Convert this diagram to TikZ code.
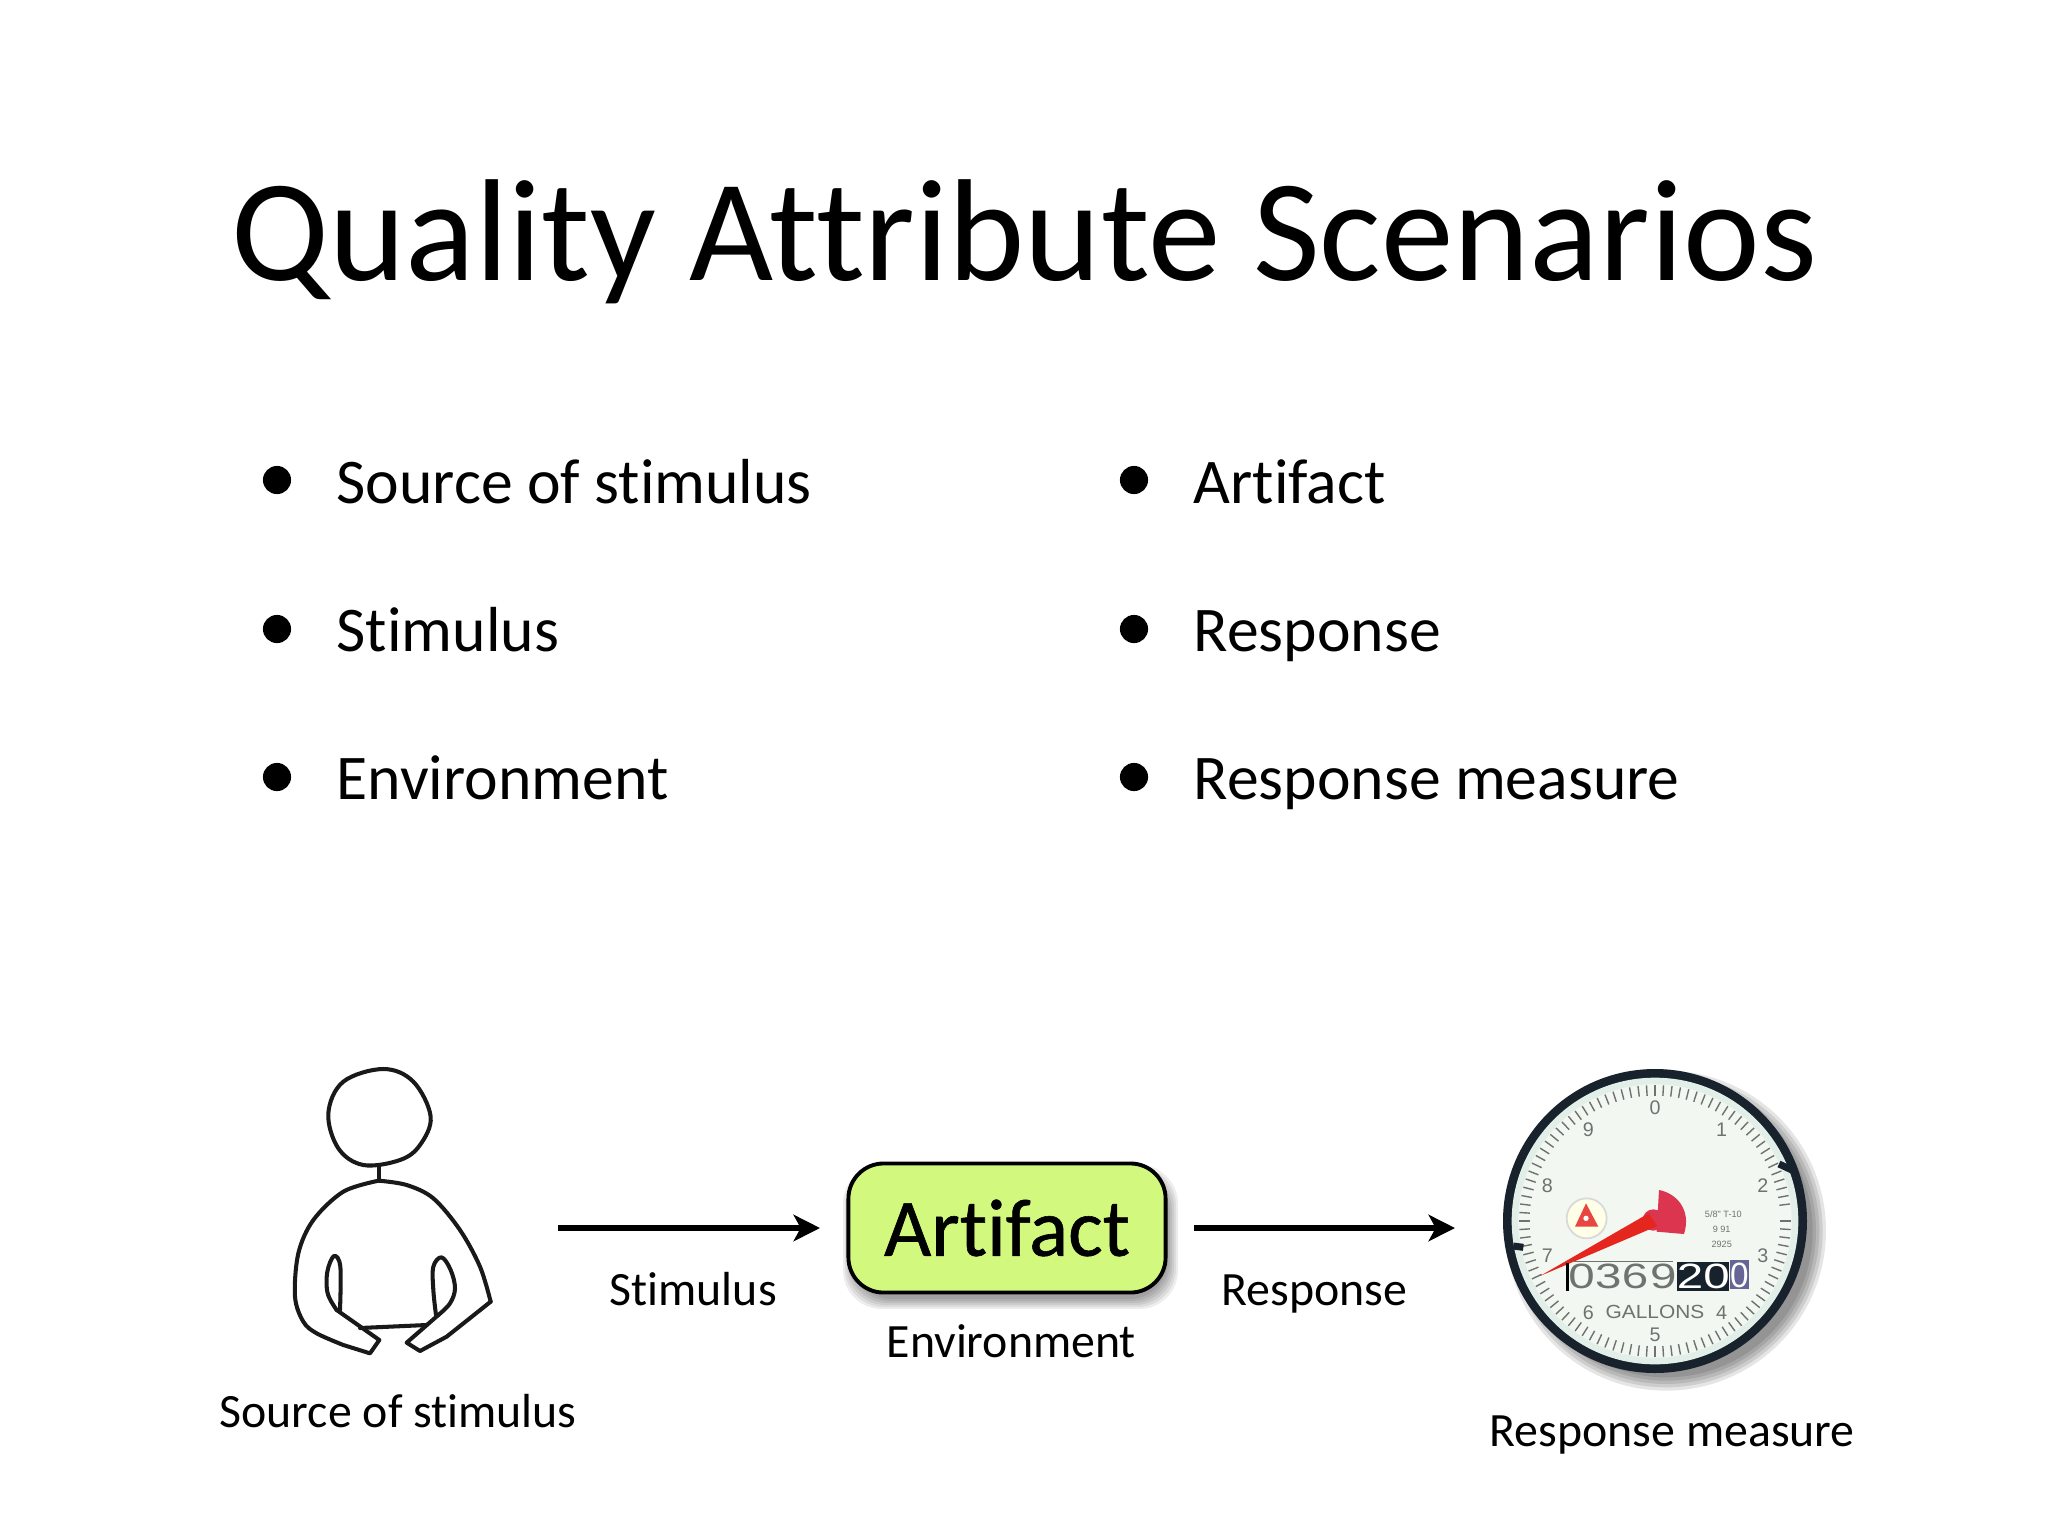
\documentclass[tikz,border=0pt]{standalone}
\usepackage{fontspec}
\setmainfont[Ligatures=NoCommon]{Carlito}
\newfontfamily\dialfont{Liberation Sans}
\usetikzlibrary{arrows.meta}

\definecolor{boxgreen}{HTML}{D2F97E}
\definecolor{ringdark}{HTML}{18222C}
\definecolor{dialface}{HTML}{F3F7F1}
\definecolor{dialring}{HTML}{E2EFE9}
\definecolor{dialgray}{HTML}{6E736F}
\definecolor{needlered}{HTML}{E4261F}
\definecolor{hubred}{HTML}{DB3550}

\tikzset{
  txt/.style={inner sep=0pt,anchor=base west,font=\fontsize{18.1}{20}\selectfont},
  lbl/.style={inner sep=0pt,anchor=base west,font=\fontsize{13.6}{16}\selectfont},
  bullet/.style={circle,fill=black,inner sep=0pt,minimum size=8pt},
  flow/.style={line width=1.7pt,-{Stealth[length=7.5pt,width=7.5pt,inset=2pt]}},
  sketch/.style={line width=1.15pt,draw=black!90,line join=round,line cap=round},
  numeral/.style={inner sep=0pt,text=dialgray,font=\dialfont\fontsize{5.6}{6}\selectfont},
  digit/.style={inner sep=0pt,xscale=1.35,font=\dialfont\fontsize{10}{12}\selectfont},
}

\begin{document}
\begin{tikzpicture}[x=0.01cm,y=-0.01cm]
  \useasboundingbox (0,0) rectangle (2048,1536);
  \fill[white] (0,0) rectangle (2048,1536);

  \node[inner sep=0pt,anchor=base west,font=\fontsize{41.3}{50}\selectfont] (title) at (231,280) {Quality Attribute Scenarios};

  \node[bullet] (b1) at (277,480) {};
  \node[bullet] (b2) at (277,629) {};
  \node[bullet] (b3) at (277,777) {};
  \node[bullet] (b4) at (1134,480) {};
  \node[bullet] (b5) at (1134,629) {};
  \node[bullet] (b6) at (1134,777) {};
  \node[txt] (source) at (336,503) {Source of stimulus};
  \node[txt] (stimulus) at (336,651) {Stimulus};
  \node[txt] (environment) at (336,799) {Environment};
  \node[txt] (artifact) at (1193,503) {Artifact};
  \node[txt] (response) at (1193,651) {Response};
  \node[txt] (measure) at (1193,799) {Response measure};

  % person
  \begin{scope}[shift={(260,1050)},scale=1/3]
    \draw[sketch] plot[smooth cycle,tension=0.6] coordinates {(205,190) (250,95) (370,57) (460,95) (512,200) (480,285) (420,330) (310,345) (235,295)};
    \draw[sketch] (356,348) -- (356,392);
    \draw[sketch] plot[smooth,tension=0.55] coordinates {(356,392) (250,425) (160,510) (115,610) (105,740) (130,815) (170,850) (250,885)} -- (330,910) -- (358,870) -- (230,780);
    \draw[sketch] plot[smooth,tension=0.6] coordinates {(230,780) (203,730) (202,665) (222,618) (241,650) (240,780)};
    \draw[sketch] (300,834) -- (500,825);
    \draw[sketch] (535,795) -- (440,878) -- (480,903) -- (560,860) -- (692,755);
    \draw[sketch] plot[smooth,tension=0.55] coordinates {(692,755) (660,650) (600,540) (520,445) (440,405) (356,392)};
    \draw[sketch] plot[smooth,tension=0.6] coordinates {(528,795) (520,720) (520,650) (545,622) (572,660) (585,715) (570,760) (535,795)};
  \end{scope}
  \node[lbl] (sourcelbl) at (219,1427) {Source of stimulus};

  % arrows
  \coordinate (s1) at (558,1228);
  \coordinate (s2) at (820,1228);
  \coordinate (r1) at (1194,1228);
  \coordinate (r2) at (1455,1228);
  \draw[flow] (s1) -- (s2);
  \draw[flow] (r1) -- (r2);
  \node[lbl] (stimlbl) at (609,1305) {Stimulus};
  \node[lbl] (resplbl) at (1221,1305) {Response};

  % box
  \foreach \g in {0,2,...,10}
    \fill[black,opacity=0.07,rounded corners=11pt] ({853-\g},{1175-\g}) rectangle ({1168+\g},{1299+\g});
  \node[draw=black,line width=1.1pt,fill=boxgreen,rounded corners=10pt,inner sep=0pt,
    minimum width=3.17cm,minimum height=1.29cm,
    font=\fontsize{23.2}{28}\selectfont\addfontfeature{FakeBold=0.7}] (box) at (1007,1228) {Artifact};
  \node[lbl] (envlbl) at (886,1357) {Environment};

  % gauge
  \begin{scope}[shift={(1460,1040)},scale=1/3]
    \foreach \r in {480,470,...,440}
      \fill[black,opacity=0.1] (618,572) circle (\r);
    \fill[ringdark] (585,543) circle (456);
    \fill[dialring] (585,543) circle (430);
    \fill[dialface] (585,543) circle (410);
    \begin{scope}[shift={(585,543)}]
      \foreach \t in {0,3.6,...,356.4}
        \draw[dialgray,line width=0.4pt] (\t:376) -- (\t:408);
      \foreach \n in {0,...,9}
        \node[numeral] (num\n) at (\n*36-90:340) {\n};
    \end{scope}
    \draw[ringdark,line width=2pt] (160,618) -- (190,622);
    \draw[ringdark,line width=2pt] (957,372) -- (1000,392);
    % logo
    \fill[white!90!yellow,draw=black!15,line width=0.5pt] (380,535) circle (60);
    \fill[needlered!85!white] (378,490) -- (345,560) -- (415,560) -- cycle;
    \fill[white] (378,535) circle (8);
    % hub and needle
    \fill[hubred] (597,450) .. controls (650,460) and (695,510) .. (672,582) -- (590,575) -- cycle;
    \fill[hubred] (580,540) circle (32);
    \fill[needlered] (240,708) -- (566,520) -- (592,558) -- cycle;
    % counter
    \draw[dialgray,line width=0.4pt] (340,665) -- (640,665);
    \fill[black] (318,668) rectangle (328,752);
    \fill[ringdark] (650,665) rectangle (808,752);
    \fill[black!5!blue!20!gray] (810,660) rectangle (868,748);
    \foreach \d/\x/\v in {a/365/0,b/445/3,c/525/6,d/610/9}
      \node[digit,text=dialgray] (cnt\d) at (\x,708) {\v};
    \node[digit,text=white] (cnte) at (690,708) {2};
    \node[digit,text=white] (cntf) at (770,708) {0};
    \node[digit,text=white,xscale=0.7] (cntg) at (838,705) {0};
    \node[numeral,font=\dialfont\fontsize{5.4}{6}\selectfont,xscale=1.1] (gallons) at (585,815) {GALLONS};
    \node[numeral,font=\dialfont\fontsize{2.6}{3}\selectfont] (spec1) at (790,522) {5/8" T-10};
    \node[numeral,font=\dialfont\fontsize{2.6}{3}\selectfont] (spec2) at (785,567) {9 91};
    \node[numeral,font=\dialfont\fontsize{2.6}{3}\selectfont] (spec3) at (785,612) {2925};
  \end{scope}
  \node[lbl] (measlbl) at (1489,1446) {Response measure};
\end{tikzpicture}
\end{document}
